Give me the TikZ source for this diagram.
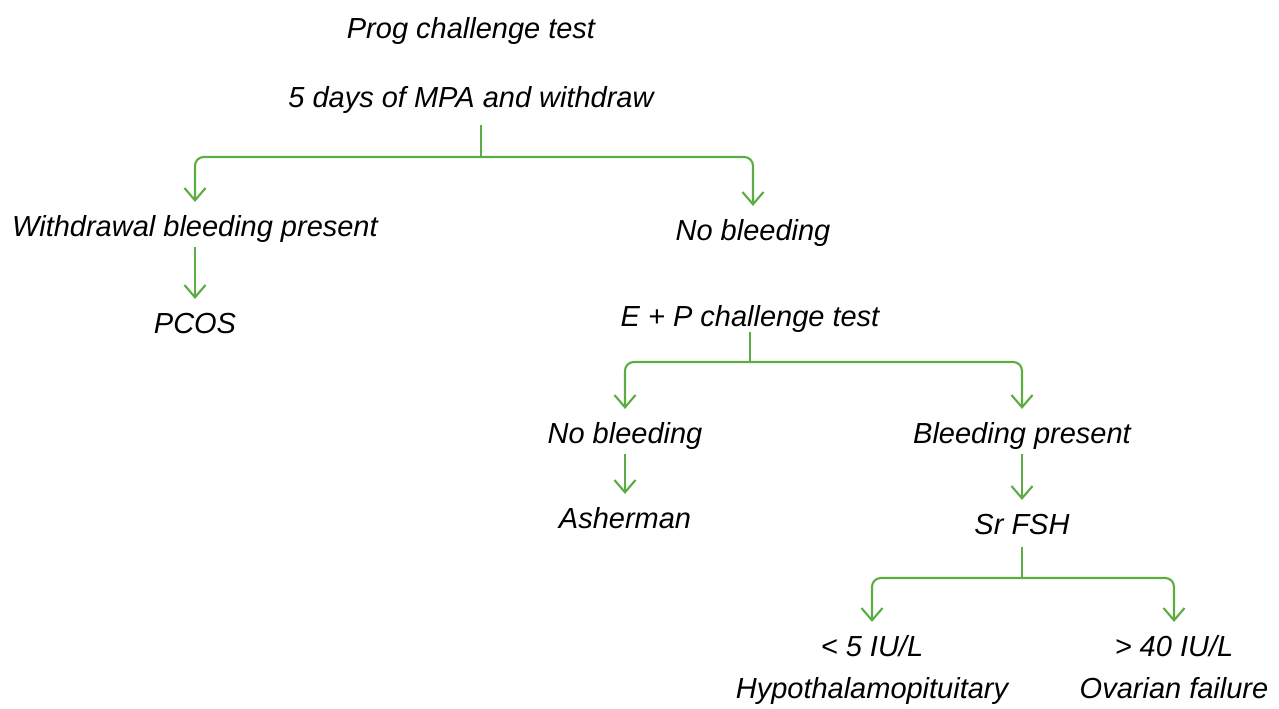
\documentclass[tikz,border=0pt]{standalone}
\usepackage{fontspec}
\setmainfont{Liberation Sans}
\usetikzlibrary{arrows.meta}
\definecolor{linkgreen}{RGB}{92,172,68}

\begin{document}
\begin{tikzpicture}[x=0.02cm, y=-0.02cm,
    txt/.style={font=\itshape\fontsize{16.5}{20}\selectfont, anchor=base, inner sep=0pt,
                text height=0.72em, text depth=0.22em},
    line/.style={draw=linkgreen, line width=1.2pt},
    stem/.style={line, shorten <=5pt},
    link/.style={line, -{Straight Barb[length=7pt,width=12pt]}, shorten <=4pt, shorten >=12pt},
    branch/.style={line, -{Straight Barb[length=7pt,width=12pt]}, shorten >=12pt, rounded corners=5pt}]
    \useasboundingbox (0,0) rectangle (1279,708);

    \node[txt] (prog) at (471,38) {Prog challenge test};
    \node[txt] (mpa) at (471,107) {5 days of MPA and withdraw};
    \node[txt] (wbp) at (195,236) {Withdrawal bleeding present};
    \node[txt] (nob1) at (753,240) {No bleeding};
    \node[txt] (pcos) at (195,333) {PCOS};
    \node[txt] (ep) at (750,326) {E + P challenge test};
    \node[txt] (nob2) at (625,443) {No bleeding};
    \node[txt] (bp) at (1022,443) {Bleeding present};
    \node[txt] (ash) at (625,528) {Asherman};
    \node[txt] (fsh) at (1022,534) {Sr FSH};
    \node[txt] (lo) at (872,656) {< 5 IU/L};
    \node[txt] (hypo) at (872,698) {Hypothalamopituitary};
    \node[txt] (hi) at (1174,656) {> 40 IU/L};
    \node[txt] (ova) at (1174,698) {Ovarian failure};

    % split points
    \coordinate (s1) at (481,157);
    \coordinate (s2) at (750,362);
    \coordinate (s3) at (1022,578);

    \draw[stem, shorten <=8pt] (s1 |- mpa.south) -- (s1);
    \draw[branch] (s1) -| (wbp);
    \draw[branch] (s1) -| (nob1);

    \draw[link] (wbp) -- (pcos);

    \draw[stem, shorten <=1pt] (s2 |- ep.south) -- (s2);
    \draw[branch] (s2) -| (nob2);
    \draw[branch] (s2) -| (bp);

    \draw[link] (nob2) -- (ash);
    \draw[link] (bp) -- (fsh);

    \draw[stem] (s3 |- fsh.south) -- (s3);
    \draw[branch] (s3) -| (lo);
    \draw[branch] (s3) -| (hi);
\end{tikzpicture}
\end{document}
